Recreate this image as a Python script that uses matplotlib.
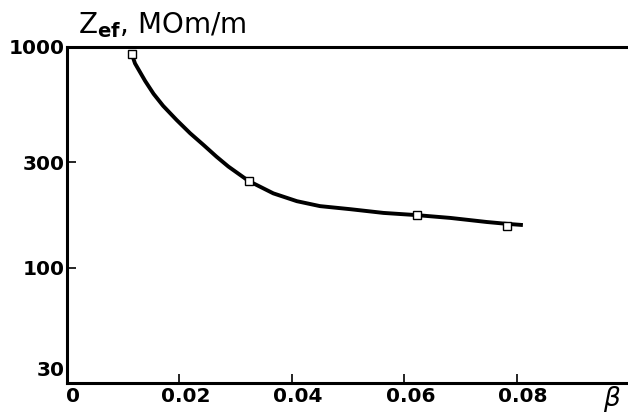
import matplotlib.pyplot as plt
import matplotlib.transforms as mtransforms

# curve (beta, Z_ef in MOm/m)
curve_beta = [0.0115, 0.0121, 0.0139, 0.0154, 0.0171, 0.0195, 0.0219, 0.0243,
              0.0266, 0.0287, 0.0323, 0.0367, 0.0409, 0.0450, 0.0504, 0.0563,
              0.0622, 0.0682, 0.0747, 0.0782, 0.0811]
curve_z = [930, 840, 700, 612, 540, 466, 406, 359,
           318, 287, 247, 217, 200, 190, 184, 177,
           173, 168, 161, 158, 156]

# measured points (hollow squares)
point_beta = [0.0115, 0.0323, 0.0622, 0.0782]
point_z = [930, 247, 173, 154]

xticks = [0, 0.02, 0.04, 0.06, 0.08]
xtick_labels = ['0', '0.02', '0.04', '0.06', '0.08']
yticks = [30, 100, 300, 1000]
ytick_labels = ['30', '100', '300', '1000']

fig = plt.figure(figsize=(6.28, 4.17), dpi=100)
ax = fig.add_axes([67 / 628, 33.7 / 417, 561 / 628, 336.6 / 417])

ax.plot(curve_beta, curve_z, color='black', lw=2.8, solid_capstyle='butt',
        solid_joinstyle='round', zorder=2)
ax.plot(point_beta, point_z, 's', ms=6, mfc='white', mec='black', mew=1.0, zorder=3)

ax.set_yscale('log')
ax.set_xlim(0, 0.0998)
ax.set_ylim(30, 1000)

ax.set_xticks(xticks)
ax.set_xticklabels(xtick_labels)
ax.set_yticks(yticks)
ax.set_yticklabels(ytick_labels)
ax.minorticks_off()

for s in ['left', 'bottom', 'top']:
    ax.spines[s].set_linewidth(2.2)
ax.spines['right'].set_visible(False)

ax.tick_params(axis='both', direction='in', length=6.5, width=1.2, colors='black')
ax.tick_params(axis='x', pad=3)
ax.tick_params(axis='y', pad=2)

for lab in ax.get_xticklabels() + ax.get_yticklabels():
    lab.set_fontweight('bold')
    lab.set_fontsize(14.5)

# x labels sit a little to the right of their ticks
dx = mtransforms.ScaledTranslation(6 / 100, 0, fig.dpi_scale_trans)
for lab in ax.get_xticklabels():
    lab.set_transform(lab.get_transform() + dx)
# "30" sits above the bottom spine
dy = mtransforms.ScaledTranslation(0, 15 / 100, fig.dpi_scale_trans)
ylabs = ax.get_yticklabels()
ylabs[0].set_transform(ylabs[0].get_transform() + dy)

fig.text(78 / 628, 1 - 33 / 417, r'$\mathregular{Z_{\bf ef}}$, MOm/m',
         fontsize=20, ha='left', va='baseline')
fig.text(612 / 628, 1 - 399 / 417, r'$\beta$', fontsize=19,
         ha='center', va='center')

fig.savefig('out.png', dpi=100)
